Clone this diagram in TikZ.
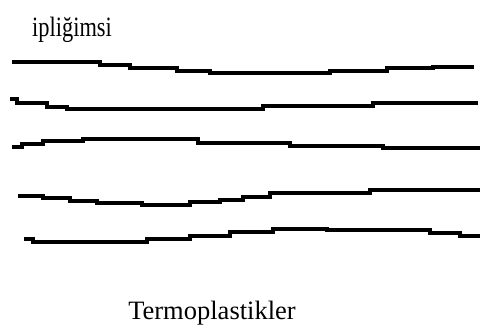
\documentclass[tikz,border=0pt]{standalone}
\usepackage{fontspec}
\setmainfont{Liberation Serif}
\begin{document}
\begin{tikzpicture}[x=0.025cm,y=-0.025cm,
    fibre/.style={line width=2.8pt,line cap=butt,line join=miter}]
		\newcommand{\lblsize}{\fontsize{19.9}{20}\selectfont}
		\newcommand{\capsize}{\fontsize{18.85}{20}\selectfont}
		\useasboundingbox (0,0) rectangle (480,327);

		% label on top
		\node [anchor=base west,inner sep=0pt,xscale=0.8] (ipl) at (32,37) {\lblsize ipliğimsi};

		% fibres
		\draw[fibre] (12,62) -| (100,65) -| (130,68) -| (177,71) -| (210,73) -| (330,71) -| (387,68) -| (433,67) -- (474,67);
		\draw[fibre] (10,99) -| (17,103) -| (47,107) -| (67,109) -| (263,106) -| (373,103) -- (478,103);
		\draw[fibre] (12,147) -| (22,144) -| (43,141) -| (83,139) -| (198,143) -| (290,146) -| (383,148) -- (480,148);
		\draw[fibre] (18,196) -| (43,198) -| (70,201) -| (97,203) -| (142,205) -| (190,202) -| (220,200) -| (243,197) -| (270,193) -| (370,190) -- (480,190);
		\draw[fibre] (24,239) -| (33,242) -| (147,239) -| (190,236) -| (230,232) -| (273,229) -| (327,230) -| (430,233) -| (460,236) -- (480,236);

		% caption below
		\node [anchor=base,inner sep=0pt] (termo) at (212,319) {\capsize Termoplastikler};
\end{tikzpicture}
\end{document}
